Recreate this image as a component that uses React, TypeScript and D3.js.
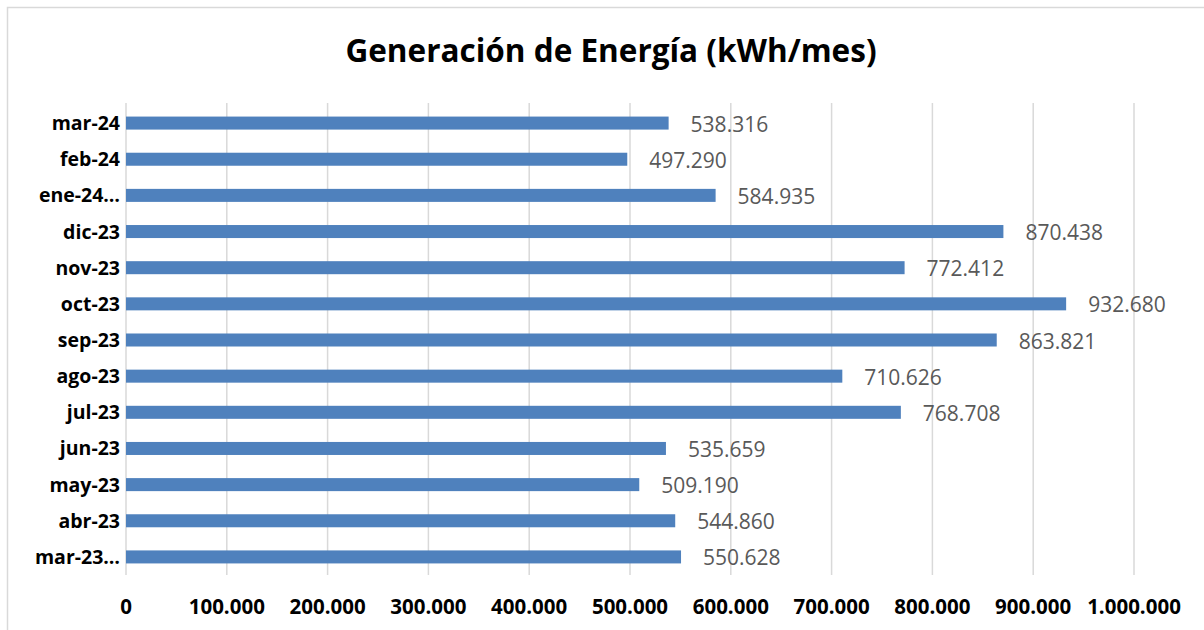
import React from 'react';
import * as d3 from 'd3';

// months, bottom of the chart first
const months = ['mar-23…', 'abr-23', 'may-23', 'jun-23', 'jul-23', 'ago-23', 'sep-23', 'oct-23', 'nov-23', 'dic-23', 'ene-24…', 'feb-24', 'mar-24'];
const energy = [550628, 544860, 509190, 535659, 768708, 710626, 863821, 932680, 772412, 870438, 584935, 497290, 538316];
const ticks = [0, 100000, 200000, 300000, 400000, 500000, 600000, 700000, 800000, 900000, 1000000];

const W = 1204;
const H = 630;
const font = '"Open Sans", Lato, sans-serif';

const fmt = (v: number) => d3.format(',')(v).replace(/,/g, '.');

export default function App() {
  const x = d3.scaleLinear().domain([0, 1000000]).range([126, 1134]);
  // top of the plot is the last month
  const y = d3.scaleBand().domain(months.slice().reverse()).range([105, 575]).paddingInner(0.64).paddingOuter(0.32);

  return (
    <svg width={W} height={H} style={{ position: 'absolute', left: 0, top: 0 }}>
      <rect x={0} y={0} width={W} height={H} fill="#fff" />
      <rect x={7.5} y={7.5} width={W + 20} height={H + 20} fill="none" stroke="#d9d9d9" strokeWidth={1.5} />
      <text x={611} y={62} textAnchor="middle" fontFamily={font} fontWeight="bold" fontSize={31.5} fill="#000">
        Generación de Energía (kWh/mes)
      </text>
      {ticks.map((t) => (
        <line key={t} x1={x(t)} x2={x(t)} y1={103} y2={575} stroke="#d9d9d9" strokeWidth={1.5} />
      ))}
      {months.map((m, i) => (
        <g key={m}>
          <rect x={x(0)} y={y(m)} width={x(energy[i]) - x(0)} height={y.bandwidth()} fill="#4f81bd" />
          <text x={x(energy[i]) + 22} y={y(m)! + y.bandwidth() / 2 + 8.5} fontFamily={font} fontSize={21} fill="#595959">
            {fmt(energy[i])}
          </text>
          <text x={120} y={y(m)! + y.bandwidth() / 2 + 7} textAnchor="end" fontFamily={font} fontWeight="bold" fontSize={19.5} fill="#000">
            {m}
          </text>
        </g>
      ))}
      {ticks.map((t) => (
        <text key={t} x={x(t)} y={614} textAnchor="middle" fontFamily={font} fontWeight="bold" fontSize={20.5} fill="#000">
          {fmt(t)}
        </text>
      ))}
    </svg>
  );
}
